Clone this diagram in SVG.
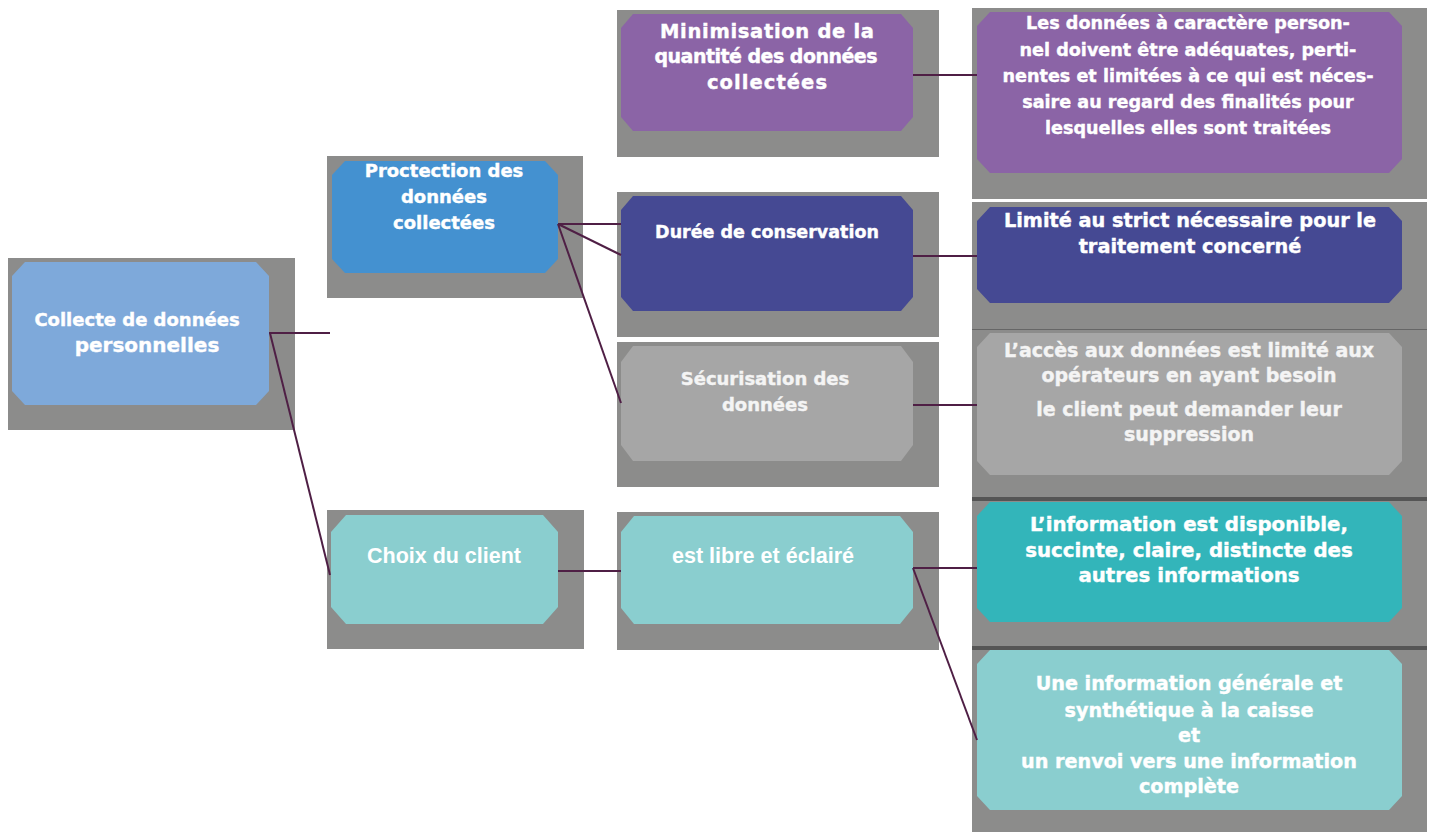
<svg xmlns="http://www.w3.org/2000/svg" width="1433" height="832" viewBox="0 0 1433 832">
<style>
.sh{fill:#8c8c8b}
.t{font-family:"DejaVu Sans","Liberation Sans",sans-serif;font-weight:bold;fill:#ffffff;stroke:#ffffff;stroke-width:0.4;text-anchor:middle}
.g{fill:#f4f4f4;stroke:#f4f4f4}
.n{font-family:"Liberation Sans",Arial,sans-serif;font-weight:bold;fill:#ffffff;text-anchor:middle}
.c{stroke:#4f1f45;stroke-width:2;fill:none}
.sep{stroke:#555555;stroke-width:4}
</style>
<rect width="1433" height="832" fill="#ffffff"/>
<g id="n-collecte">
<rect class="sh" x="8" y="258" width="287" height="172"/>
<polygon fill="#7ea9da" points="25,262 256,262 269,276 269,391 256,405 25,405 12,391 12,276"/>
<text class="t" font-size="18" x="137" y="326">Collecte de données</text>
<text class="t" font-size="20" x="147" y="352">personnelles</text>
</g>
<g id="n-protection">
<rect class="sh" x="327" y="156" width="256" height="142"/>
<polygon fill="#4491d0" points="345,161 545,161 558,175 558,259 545,273 345,273 332,259 332,175"/>
<text class="t" font-size="18" x="444" y="177">Proctection des</text>
<text class="t" font-size="18" x="444" y="203">données</text>
<text class="t" font-size="18" x="444" y="229">collectées</text>
</g>
<g id="n-choix">
<rect class="sh" x="327" y="510" width="257" height="139"/>
<polygon fill="#8acecf" points="346,515 543,515 558,532 558,607 543,624 346,624 331,607 331,532"/>
<text class="n" font-size="22" x="444" y="563" textLength="154" lengthAdjust="spacingAndGlyphs">Choix du client</text>
</g>
<g id="n-minimisation">
<rect class="sh" x="617" y="10" width="322" height="147"/>
<polygon fill="#8b64a6" points="633,14 901,14 913,28 913,117 901,131 633,131 621,117 621,28"/>
<text class="t" font-size="19.5" x="767" y="38" textLength="214">Minimisation de la</text>
<text class="t" font-size="19" x="766" y="63" textLength="223">quantité des données</text>
<text class="t" font-size="19.5" x="767" y="89" textLength="120">collectées</text>
</g>
<g id="n-duree">
<rect class="sh" x="617" y="192" width="322" height="145"/>
<polygon fill="#454993" points="633,196 901,196 913,210 913,297 901,311 633,311 621,297 621,210"/>
<text class="t" font-size="17.5" x="767" y="238">Durée de conservation</text>
</g>
<g id="n-securisation">
<rect class="sh" x="617" y="342" width="322" height="145"/>
<polygon fill="#a6a6a6" points="633,346 901,346 913,362 913,445 901,461 633,461 621,445 621,362"/>
<text class="t g" font-size="18" x="765" y="385">Sécurisation des</text>
<text class="t g" font-size="18" x="765" y="411">données</text>
</g>
<g id="n-libre">
<rect class="sh" x="617" y="512" width="322" height="138"/>
<polygon fill="#8acecf" points="634,516 900,516 913,532 913,608 900,624 634,624 621,608 621,532"/>
<text class="n" font-size="22" x="763" y="563" textLength="182" lengthAdjust="spacingAndGlyphs">est libre et éclairé</text>
</g>
<g id="n-minimisation-detail">
<rect class="sh" x="972" y="8" width="455" height="191"/>
<polygon fill="#8b64a6" points="990,12 1389,12 1402,26 1402,159 1389,173 990,173 977,159 977,26"/>
<text class="t" font-size="17.6" x="1188" y="29">Les données à caractère person-</text>
<text class="t" font-size="17.6" x="1188" y="56">nel doivent être adéquates, perti-</text>
<text class="t" font-size="17.6" x="1188" y="82">nentes et limitées à ce qui est néces-</text>
<text class="t" font-size="17.6" x="1188" y="108">saire au regard des finalités pour</text>
<text class="t" font-size="17.6" x="1188" y="134">lesquelles elles sont traitées</text>
</g>
<g id="n-duree-detail">
<rect class="sh" x="972" y="202" width="455" height="127"/>
<polygon fill="#454993" points="990,207 1389,207 1402,221 1402,289 1389,303 990,303 977,289 977,221"/>
<text class="t" font-size="19.3" x="1190" y="227">Limité au strict nécessaire pour le</text>
<text class="t" font-size="19.3" x="1190" y="253">traitement concerné</text>
</g>
<g id="n-securisation-detail">
<rect class="sh" x="972" y="329" width="455" height="169"/>
<line x1="972" y1="329.5" x2="1427" y2="329.5" stroke="#666" stroke-width="1"/>
<polygon fill="#a6a6a6" points="990,333 1389,333 1402,347 1402,461 1389,475 990,475 977,461 977,347"/>
<text class="t g" font-size="19" x="1189" y="357">L’accès aux données est limité aux</text>
<text class="t g" font-size="19" x="1189" y="382">opérateurs en ayant besoin</text>
<text class="t g" font-size="19" x="1189" y="416">le client peut demander leur</text>
<text class="t g" font-size="19" x="1189" y="441">suppression</text>
</g>
<g id="n-info-detail">
<rect class="sh" x="972" y="498" width="455" height="148"/>
<line class="sep" x1="972" y1="499" x2="1427" y2="499"/>
<polygon fill="#33b5ba" points="990,502 1389,502 1402,516 1402,608 1389,622 990,622 977,608 977,516"/>
<text class="t" font-size="19.8" x="1189" y="531">L’information est disponible,</text>
<text class="t" font-size="19.8" x="1189" y="557">succinte, claire, distincte des</text>
<text class="t" font-size="19.8" x="1189" y="582">autres informations</text>
</g>
<g id="n-renvoi-detail">
<rect class="sh" x="972" y="646" width="455" height="186"/>
<line class="sep" x1="972" y1="648" x2="1427" y2="648"/>
<polygon fill="#8acecf" points="990,650 1389,650 1402,664 1402,796 1389,810 990,810 977,796 977,664"/>
<text class="t" font-size="19.2" x="1189" y="690">Une information générale et</text>
<text class="t" font-size="19.2" x="1189" y="717">synthétique à la caisse</text>
<text class="t" font-size="19.2" x="1189" y="742">et</text>
<text class="t" font-size="19.2" x="1189" y="768">un renvoi vers une information</text>
<text class="t" font-size="19.2" x="1189" y="793">complète</text>
</g>
<g id="connectors">
<line class="c" x1="269" y1="333" x2="330" y2="333"/>
<line class="c" x1="270" y1="333" x2="330" y2="575"/>
<line class="c" x1="558" y1="224" x2="621" y2="224"/>
<line class="c" x1="558" y1="224" x2="621" y2="255"/>
<line class="c" x1="558" y1="224" x2="621" y2="403"/>
<line class="c" x1="558" y1="571" x2="621" y2="571"/>
<line class="c" x1="913" y1="75" x2="977" y2="75"/>
<line class="c" x1="913" y1="256" x2="977" y2="256"/>
<line class="c" x1="913" y1="405" x2="977" y2="405"/>
<line class="c" x1="913" y1="568" x2="977" y2="568"/>
<line class="c" x1="913" y1="568" x2="977" y2="740"/>
</g>
</svg>
